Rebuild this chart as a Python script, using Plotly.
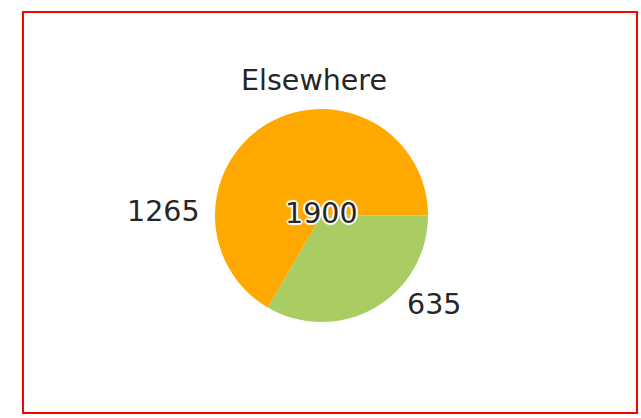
import plotly.graph_objects as go

# Data
title_text = "Elsewhere"
categories = ["Green", "Orange"]
values = [635, 1265]
colors = ["#A9CC63", "#FFA800"]

W, H = 641, 418
total = sum(values)

# pie geometry (pixels)
cx, cy, r = 321.5, 215.5, 106.5

def px(x):
    return x / W

def py(y):
    return 1 - y / H

fig = go.Figure()
fig.add_trace(go.Pie(
    labels=categories,
    values=values,
    sort=False,
    direction="clockwise",
    rotation=90,
    marker=dict(colors=colors, line=dict(width=0)),
    textinfo="none",
    hoverinfo="label+value",
    showlegend=False,
    domain=dict(x=[px(cx - r), px(cx + r)], y=[py(cy + r), py(cy - r)]),
))

font_family = "'DejaVu Sans', sans-serif"
text_color = "#262626"
fsize = 28.5

# outside labels
label_pos = {"Orange": (163, 211), "Green": (434, 304)}
annotations = []
for cat, val in zip(categories, values):
    lx, ly = label_pos[cat]
    annotations.append(dict(
        x=px(lx), y=py(ly), xref="paper", yref="paper",
        text=str(val), showarrow=False, xanchor="center", yanchor="middle",
        font=dict(family=font_family, size=fsize, color=text_color),
    ))

# total in the centre with white halo
halo = ", ".join(f"white {dx}px {dy}px 1px" for dx, dy in
                 [(1, 0), (-1, 0), (0, 1), (0, -1), (1, 1), (-1, -1), (1, -1), (-1, 1),
                  (2, 0), (-2, 0), (0, 2), (0, -2)])
annotations.append(dict(
    x=px(321), y=py(213), xref="paper", yref="paper",
    text=str(total), showarrow=False, xanchor="center", yanchor="middle",
    font=dict(family=font_family, size=fsize, color=text_color, shadow=halo),
))

fig.update_layout(
    width=W, height=H,
    margin=dict(l=0, r=0, t=0, b=0),
    paper_bgcolor="white",
    plot_bgcolor="white",
    title=dict(text=title_text, x=px(314), y=py(80), xanchor="center", yanchor="middle",
               font=dict(family=font_family, size=fsize, color=text_color)),
    annotations=annotations,
    shapes=[dict(type="rect", xref="paper", yref="paper",
                 x0=px(23), x1=px(637), y0=py(413), y1=py(12),
                 line=dict(color="#FF0000", width=2))],
)

fig.write_html("out.html",
               config={"displayModeBar": False},
               post_script="document.body.style.margin='0';document.body.style.padding='0';")
